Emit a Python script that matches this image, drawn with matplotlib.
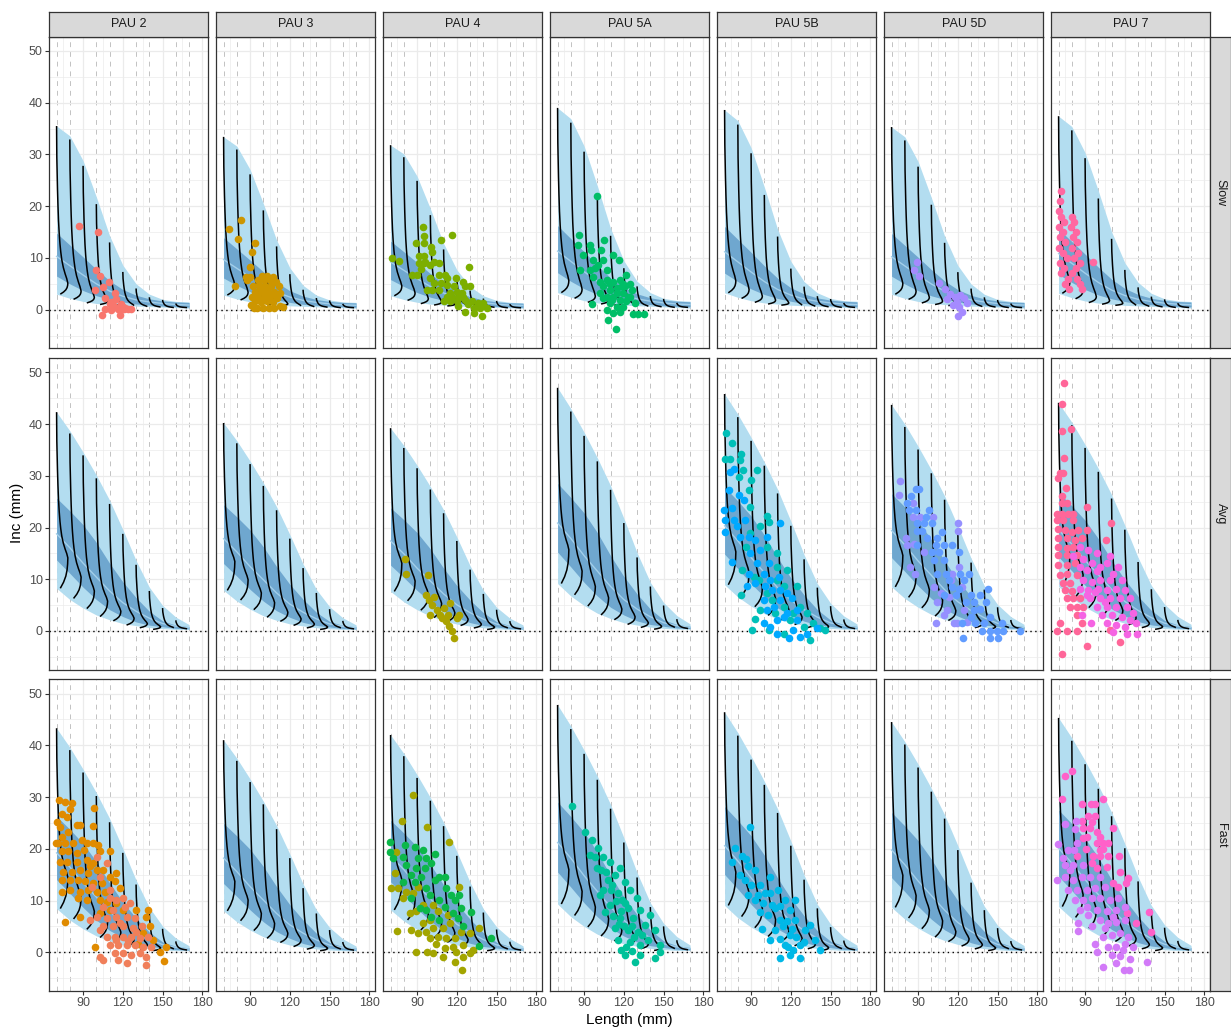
import numpy as np
import matplotlib.pyplot as plt

plt.rcParams['font.family'] = ['Liberation Sans', 'DejaVu Sans']

# --- facets ---
PAUS = ["PAU 2", "PAU 3", "PAU 4", "PAU 5A", "PAU 5B", "PAU 5D", "PAU 7"]
SPEEDS = ["Slow", "Avg", "Fast"]

# --- growth envelopes (per speed, reference panel), lengths 70..170 ---
LENGTHS = [70, 80, 90, 100, 110, 120, 130, 140, 150, 160, 170]
SLOW_REF = 35.5
SLOW_UPPER = [35.5, 33.6, 28.8, 21.8, 14.3, 8.6, 5.0, 3.0, 2.0, 1.6, 1.5]
SLOW_LOWER = [3.0, 2.2, 1.6, 1.2, 1.0, 0.8, 0.7, 0.6, 0.5, 0.4, 0.3]
SLOW_IN_HI = [14.8, 12.5, 10.2, 7.8, 5.6, 3.9, 2.8, 2.1, 1.7, 1.5, 1.4]
SLOW_IN_LO = [6.5, 5.0, 3.7, 2.7, 2.0, 1.5, 1.1, 0.9, 0.7, 0.6, 0.5]
SLOW_MED = [10.3, 8.5, 6.7, 5.0, 3.6, 2.6, 1.9, 1.5, 1.2, 1.0, 0.9]

FAST_REF = 41.0
FAST_UPPER = [41.0, 37.5, 33.5, 29.2, 24.5, 19.0, 13.2, 8.2, 4.8, 2.6, 1.2]
FAST_LOWER = [8.0, 5.9, 4.3, 3.0, 2.1, 1.4, 1.0, 0.65, 0.45, 0.3, 0.3]
FAST_IN_HI = [24.9, 22.5, 19.9, 16.6, 12.7, 9.2, 6.25, 3.7, 1.9, 1.1, 0.8]
FAST_IN_LO = [13.3, 10.8, 8.2, 5.9, 4.0, 2.7, 1.7, 1.1, 0.8, 0.5, 0.4]
FAST_MED = [18.2, 15.6, 12.7, 10.1, 7.5, 5.3, 3.7, 2.4, 1.4, 0.9, 0.6]

# --- start-length increment curves (top, mode, bottom) ---
START_LENGTHS = [70, 80, 90, 100, 110, 120, 130, 140, 150, 160]
SLOW_CURVE_TOP = [35.5, 32.9, 27.8, 20.4, 13.0, 7.3, 4.1, 2.4, 1.9, 1.2]
SLOW_CURVE_MODE = [5.1, 3.6, 2.4, 1.7, 1.2, 0.8, 0.6, 0.5, 0.4, 0.4]
SLOW_CURVE_BOT = [3.0, 2.0, 1.3, 1.0, 0.8, 0.8, 0.6, 0.5, 0.4, 0.4]
FAST_CURVE_TOP = [41.0, 37.0, 32.9, 28.6, 23.8, 18.2, 12.4, 7.5, 4.3, 2.0]
FAST_CURVE_MODE = [13.7, 10.1, 7.5, 5.6, 3.7, 2.4, 1.4, 0.8, 0.6, 0.4]
FAST_CURVE_BOT = [8.0, 6.1, 4.2, 2.7, 1.9, 1.1, 0.6, 0.3, 0.6, 0.4]

# curve outline: height fraction above the mode vs. sideways fraction
CURVE_UP_V = [1.0, 0.8, 0.6, 0.5, 0.4, 0.32, 0.25, 0.2, 0.15, 0.1, 0.06, 0.03, 0.0]
CURVE_UP_DX = [0.0, 0.02, 0.08, 0.12, 0.17, 0.23, 0.3, 0.37, 0.46, 0.6, 0.76, 0.9, 1.0]
CURVE_LO_W = [0.0, 0.2, 0.4, 0.6, 0.8, 1.0]
CURVE_LO_DX = [1.0, 0.98, 0.93, 0.82, 0.62, 0.33]
CURVE_WIDTH = 8.5

# envelope height at 70 mm, per panel
TOP70 = {
    "Slow": [35.5, 33.4, 31.8, 39.0, 38.6, 35.3, 37.4],
    "Avg": [42.3, 40.2, 39.2, 47.0, 45.8, 43.7, 44.1],
    "Fast": [43.3, 41.0, 42.0, 47.8, 46.4, 44.5, 45.3],
}

# --- observed increments (length mm, inc mm) ---
pau2_slow = [(86.6, 16.2), (101.4, 15.1), (99.6, 7.7), (102.4, 6.6), (109.2, 5.4), (104.7, 4.3),
             (99.1, 3.8), (114, 3.3), (106.7, 2.2), (111, 1.5), (110, 1.1), (113.5, 0.7),
             (118.5, 1.1), (120, 0.6), (106.4, 0.1), (111, -0.1), (116, 0.1), (121, 0.1),
             (124, 0.1), (126.5, 0.1), (104, -1.0), (118, -1.0), (112, 0.3), (115, 2.0),
             (119, 0.2), (122, 0.3)]
pau3_slow = [(74.1, 15.5), (82.9, 17.3), (80.9, 13.7), (93.9, 12.8), (91.6, 11.1), (89.6, 8.2),
             (78.8, 4.6), (87.1, 6.4), (90.1, 6.3), (87.6, 5.7), (99, 6.5), (102.7, 6.5),
             (107.2, 6.4), (95.7, 5.7), (100.2, 5.7), (105.2, 5.7), (109.7, 5.4), (92.2, 4.5),
             (96.4, 4.8), (101.4, 4.6), (105.7, 4.5), (111.5, 4.6), (93.9, 3.5), (98.9, 3.5),
             (104, 3.3), (108.2, 3.5), (112.7, 3.2), (91.4, 2.5), (95.7, 2.4), (100.2, 2.2),
             (105.2, 2.4), (110.2, 2.2), (93.9, 1.6), (98.2, 1.4), (102.7, 1.6), (107.2, 1.4),
             (112.7, 0.7), (90.6, 0.9), (95.2, 0.3), (99.7, 0.3), (104, 0.3), (108.2, 0.3),
             (114.5, 0.5), (101.4, 2.8), (97.2, 4.1), (102.7, 3.8), (106.5, 2.8), (92.7, 0.3)]
pau4_slow = [(70.8, 9.9), (76.0, 9.5), (94.4, 15.9), (95.4, 14.3), (94.9, 12.8), (88.9, 12.8),
             (100.4, 12.1), (101.4, 11.2), (107.9, 13.5), (116.2, 14.4), (91.1, 10.4), (91.1, 9.1),
             (94.9, 9.0), (92.9, 7.8), (86.1, 6.8), (89.8, 6.8), (96.1, 9.3), (102.4, 9.3),
             (106.9, 9.1), (99.9, 6.1), (106.2, 6.7), (111.2, 6.7), (112.5, 6.1), (119.5, 6.1),
             (129.3, 8.3), (97.4, 3.8), (101.2, 3.8), (107.9, 5.1), (112.5, 4.8), (117.5, 4.5),
             (125, 5.4), (125.8, 4.5), (115, 3.2), (120, 3.5), (123.8, 3.2), (130, 4.5),
             (110, 1.6), (115, 1.6), (120, 1.6), (126.3, 1.9), (131.3, 1.6), (136.3, 1.2),
             (140.1, 1.2), (142.6, 0.3), (132.6, 0.3), (126.3, -0.4), (132.6, -0.6), (138.8, -1.3),
             (125, 2.4), (122, 2.5), (116.2, 2.5), (112.5, 2.5), (106.9, 3.8), (102.4, 5.1),
             (120.5, 0.7), (128.8, 1.1), (137.6, 0.3), (94.9, 10.3), (99.9, 8.6)]
pau5a_slow = [(99.4, 22.0), (86.4, 14.4), (85.6, 12.5), (94.4, 12.5), (94.9, 11.5), (105.2, 13.5),
              (102.4, 11.5), (89.4, 10.6), (96.9, 9.6), (104.5, 9.6), (111.5, 10.6), (116, 9.6),
              (86.9, 7.7), (94.4, 7.7), (100.7, 8.6), (107, 7.7), (122, 6.7), (96.9, 6.4),
              (101.9, 5.4), (107, 5.7), (112, 5.4), (117, 5.7), (120.8, 4.5), (125.8, 3.8),
              (104.5, 4.5), (109.5, 3.8), (114.5, 4.1), (119.5, 3.2), (124.5, 2.5), (128.3, 1.2),
              (101.9, 3.2), (107, 2.5), (112, 2.5), (117, 1.9), (122, 1.6), (95.7, 1.1),
              (109.5, 1.2), (114.5, 0.6), (119.5, 0.6), (107, -0.1), (112, -0.7), (117, -0.4),
              (127.1, -0.8), (130.8, -0.8), (135.1, -0.8), (108.2, -1.9), (114, -3.7), (109.5, 5.0),
              (114.5, 3.2), (110.7, 1.9), (118.3, 4.5), (123.3, 2.5), (104.5, 2.2), (119.5, 5.0),
              (124.5, 5.0), (98.2, 8.0)]
pau5d_slow = [(89, 9.2), (87, 7.6), (91, 6.5), (106, 5.2), (110, 4.0), (114, 3.0), (118, 2.5),
              (122, 2.8), (125, 2.3), (119, 1.5), (121, 0.5), (123, -0.5), (120, -1.2), (116, 1.0),
              (112, 2.0), (127, 1.2)]
pau7_slow = [(72, 23), (71, 21), (70, 19), (72, 18), (74, 17), (70, 16), (73, 15), (71, 14),
             (75, 13), (70, 12), (73, 11), (76, 10), (71, 9), (74, 8), (72, 7), (77, 6), (75, 5),
             (78, 4), (80, 18), (82, 17), (79, 16), (83, 15), (81, 14), (84, 13), (80, 12),
             (85, 11), (82, 10), (86, 9), (83, 8), (80, 7), (84, 6), (86, 5), (88, 4), (96, 9.2)]

pau4_avg = [(81, 13.9), (82, 11.0), (98, 10.8), (97, 7), (99, 6), (101, 5), (103, 6.5), (105, 4),
            (107, 3), (109, 2.5), (112, 2), (114, 1), (116, 0), (118, -1.3), (110, 4.5), (113, 3),
            (120, 2.5), (122, 3), (115, 5.5), (100, 3)]
pau5b_avg_a = [(71.3, 38.2), (75.3, 36.3), (70.5, 33.2), (74.3, 33.2), (82.3, 34.2), (81.9, 33.0),
               (83.9, 31.1), (80.6, 29.8), (89.9, 29.2), (94.4, 31.2), (88.1, 27.2), (89.4, 24.0),
               (101.9, 22.2), (96.9, 20.2), (103.2, 21.1), (89.4, 18.9), (86.4, 16.3), (101.9, 16.3),
               (109.5, 15.0), (83.1, 11.8), (91.9, 10.5), (82.4, 7.0), (95.7, 9.8), (109.5, 12.4),
               (117, 11.8), (124.5, 8.6), (101.9, 7.3), (96.9, 4.0), (93.1, 2.4), (90.6, 0.2),
               (103.2, 0.2), (108.2, 3.4), (114.5, 4.7), (122, 3.4), (127, 4.7), (132.1, 3.4),
               (137.1, 1.5), (142.1, 0.5), (145.9, 0.2), (134.6, -1.7), (129.6, 0.8), (114.5, -0.5),
               (119.5, 2.1), (109.5, 9.8), (114.5, 8.6), (105.7, 6.0)]
pau5b_avg_b = [(74.3, 30.8), (76.8, 31.4), (73.1, 27.2), (69.3, 23.4), (75.6, 23.7), (80.6, 26.3),
               (84.4, 25.3), (70.5, 21.4), (76.8, 21.4), (85.6, 21.4), (70.5, 19.2), (79.3, 20.2),
               (81.9, 18.2), (75.6, 13.4), (88.1, 18.2), (93.1, 17.6), (89.4, 15.0), (96.9, 15.7),
               (101.9, 18.2), (112, 20.8), (94.4, 13.1), (103.2, 13.1), (88.1, 11.1), (93.1, 9.2),
               (99.4, 11.1), (104.5, 9.8), (110.7, 10.5), (86.9, 8.6), (100.7, 8.6), (105.7, 7.9),
               (112, 7.9), (117, 7.3), (99.4, 6.0), (112, 6.0), (120.8, 6.3), (101.9, 4.0),
               (107, 4.7), (117, 3.4), (124.5, 4.0), (109.5, 2.1), (114.5, 2.8), (124.5, 2.1),
               (109.5, -0.5), (118.3, -1.4), (127, -1.1), (122, 0.2), (132.1, -0.5), (139.6, 0.5),
               (104.5, 0.8), (99.4, 1.5)]
pau5d_avg_a = [(76.3, 29.0), (75.3, 26.3), (86.4, 24.8), (86.1, 22.1), (91.1, 22.1), (101.2, 22.1),
               (120, 20.8), (120, 19.4), (80.8, 17.9), (86.9, 16.9), (81.8, 16.6), (94.4, 15.3),
               (83.9, 12.4), (87.4, 11.1), (120.8, 12.4), (101.9, 8.5), (115.7, 11.1), (104.4, 5.7),
               (109.5, 3.1), (103.7, 1.6), (119.5, 1.6), (124.5, 4.0), (113.2, 6.6), (123.3, 8.5),
               (114.5, 9.9), (112, 4.1), (117, 1.5), (127, 1.8), (107, 7.3)]
pau5d_avg_b = [(88.1, 27.5), (90.6, 27.5), (84.4, 26.1), (81.9, 24.8), (83.1, 23.4), (88.1, 23.4),
               (98.2, 23.4), (96.2, 22.1), (89.4, 20.8), (94.4, 20.8), (100.7, 20.8), (89.4, 19.3),
               (93.1, 19.3), (104.4, 17.9), (108.2, 19.2), (96.9, 17.9), (103.2, 16.6), (109.5, 16.6),
               (115.7, 16.6), (89.4, 16.6), (100.7, 15.3), (105.7, 15.3), (120.8, 15.3), (109.5, 13.7),
               (101.9, 13.7), (104.4, 11.1), (110.7, 11.1), (122, 11.1), (128.3, 11.1), (113.2, 9.9),
               (124.5, 9.9), (115.7, 8.5), (120.8, 8.2), (109.5, 6.9), (118.3, 6.9), (129.6, 6.9),
               (137.1, 6.9), (142.6, 8.2), (125.8, 5.7), (132.1, 5.7), (140.9, 5.7), (132.1, 4.1),
               (137.1, 4.2), (144.6, 2.8), (129.6, 2.8), (123.3, 1.6), (133.3, 1.5), (139.6, 1.5),
               (153.4, 1.6), (144.6, 0.0), (149.6, 0.0), (154.2, 0.0), (166.7, 0.0), (144.6, -1.3),
               (150.4, -1.3), (123.8, -1.3), (138.3, 0.0)]
pau7_avg_a = [(74.1, 47.9), (72.3, 43.9), (72.3, 38.7), (79.1, 39.1), (74.1, 33.4), (71.0, 30.5),
              (69.8, 29.5), (73.6, 30.5), (75.6, 27.6), (72.3, 26.0), (72.3, 24.7), (76.1, 24.7),
              (68.5, 22.7), (72.3, 22.7), (77.3, 22.7), (81.1, 22.7), (91.1, 24.0), (109.5, 20.8),
              (68.5, 21.4), (73.6, 21.4), (81.1, 21.4), (69.8, 19.8), (74.8, 19.5), (79.8, 19.2),
              (84.9, 19.5), (91.6, 19.5), (69.8, 17.9), (76.1, 17.9), (82.4, 17.6), (87.4, 17.9),
              (105.7, 17.5), (69.8, 16.3), (76.1, 16.0), (81.1, 16.3), (69.8, 14.7), (76.1, 14.7),
              (83.6, 14.7), (69.8, 12.8), (76.1, 12.8), (82.4, 13.1), (71.0, 10.8), (76.1, 11.0),
              (83.6, 10.8), (73.6, 9.2), (78.6, 9.2), (74.8, 7.9), (79.8, 7.8), (76.1, 6.3),
              (81.1, 6.3), (86.1, 6.3), (83.6, 4.7), (88.6, 4.7), (83.6, 3.1), (87.4, 1.5),
              (71.0, 1.5), (69.0, 0.0), (76.1, 0.0), (83.6, 0.0), (91.1, -2.9), (72.8, -4.4),
              (116.3, -2.1), (108.7, 0.1), (78.6, 4.7)]
pau7_avg_b = [(86.1, 16.3), (92.4, 15.6), (98.7, 15.0), (81.1, 14.4), (88.6, 14.0), (94.9, 13.1),
              (101.2, 12.4), (86.1, 12.4), (91.1, 11.8), (98.7, 11.5), (106.2, 13.1), (108.7, 14.4),
              (88.6, 9.9), (94.9, 9.5), (101.2, 9.9), (108.7, 9.9), (117.5, 9.9), (86.1, 8.2),
              (92.4, 7.9), (99.9, 8.2), (106.2, 7.9), (113.7, 8.2), (120, 7.9), (93.6, 6.3),
              (101.2, 6.3), (108.7, 6.3), (116.3, 6.3), (123.8, 6.3), (98.7, 4.7), (106.2, 4.7),
              (113.7, 4.7), (121.3, 4.7), (126.3, 3.4), (102.4, 3.1), (110, 3.1), (117.5, 2.8),
              (123.8, 2.1), (128.8, 1.5), (106.2, 1.5), (113.7, 1.2), (120, 0.8), (111.2, -0.1),
              (121.3, -0.5), (129.3, -0.5), (94.4, 1.5), (87.4, 3.1), (115, 12.4), (111.2, 11.1),
              (91.1, 7.0), (97.4, 7.6), (105, 5.7)]

pau2_fast_a = [(72.1, 29.4), (76.3, 29.1), (70.0, 25.2), (73.8, 26.8), (77.6, 26.2), (81.3, 28.8),
               (80.1, 27.6), (72.6, 24.3), (85.1, 24.6), (87.6, 24.6), (73.8, 22.3), (78.8, 23.3),
               (71.3, 21.1), (69.5, 21.2), (76.3, 21.1), (82.6, 21.1), (88.9, 21.7), (92.6, 21.1),
               (97.7, 21.1), (101.4, 20.7), (98.2, 27.8), (97.2, 24.5), (73.8, 19.5), (78.8, 19.5),
               (85.1, 19.1), (90.6, 19.8), (102.7, 19.5), (72.6, 17.5), (77.6, 17.5), (85.1, 17.5),
               (92.6, 17.8), (97.7, 17.2), (75.1, 15.6), (81.3, 15.6), (87.6, 15.9), (93.9, 15.3),
               (100.2, 15.9), (105.2, 15.9), (73.8, 14.0), (80.1, 14.0), (86.4, 14.0), (91.4, 13.7),
               (97.7, 13.3), (104, 13.3), (110.2, 14.6), (115.2, 15.3), (114, 13.7), (73.8, 11.7),
               (80.1, 12.1), (87.6, 11.7), (93.9, 12.1), (100.2, 11.7), (106.5, 11.7), (86.4, 10.4),
               (92.6, 10.1), (102.7, 10.1), (76.3, 5.9), (87.6, 6.9), (102.7, 7.5), (110.2, 8.2),
               (120.3, 8.2), (130.3, 8.2), (139.1, 8.2), (137.8, 6.9), (135.3, 3.7), (140.4, 5.0),
               (98.9, 1.1), (131.6, 1.7), (142.9, 2.4), (152.9, 1.0), (147.9, 0.1), (151.2, -1.6),
               (110.2, 19.5), (95.2, 16.6), (107.7, 9.8), (115.2, 9.5), (117.8, 12.4)]
pau2_fast_b = [(100.2, 18.5), (107.7, 17.2), (102.7, 14.6), (96.4, 12.7), (110.2, 12.1), (115.2, 10.1),
               (120.3, 10.4), (105.2, 8.8), (112.7, 8.2), (121.5, 8.8), (125.3, 9.5), (100.2, 6.9),
               (107.7, 6.6), (115.2, 6.9), (122.8, 6.9), (129.1, 6.6), (95.2, 6.2), (105.2, 5.0),
               (112.7, 5.0), (120.3, 5.0), (127.8, 4.6), (134.1, 5.0), (107.7, 3.0), (114, 3.0),
               (120.3, 3.0), (126.5, 3.0), (132.8, 2.7), (139.1, 3.0), (110.2, 1.4), (116.5, 1.4),
               (122.8, 1.4), (129.1, 1.4), (135.3, 1.1), (141.6, 1.1), (114, -0.2), (120.3, -0.2),
               (126.5, -0.5), (132.8, -0.2), (137.8, -0.9), (102.7, -0.9), (105.2, -1.5), (116.5, -1.5),
               (122.8, -2.0), (137.8, -2.5), (110.2, 10.4), (102.7, 4.3), (130.3, 4.0), (117.8, 5.6),
               (124, 2.1), (115.2, 2.4)]
pau4_fast_a = [(86.9, 30.4), (78.8, 25.4), (97.7, 24.3), (114, 21.3), (74.3, 19.3), (73.1, 15.3),
               (70.5, 12.4), (75.6, 12.4), (81.9, 11.7), (79.3, 10.4), (86.9, 11.5), (90.6, 12.7),
               (84.4, 7.5), (89.4, 7.9), (94.4, 9.1), (101.9, 9.1), (105.7, 7.9), (74.8, 4.2),
               (85.6, 4.3), (90.6, 3.7), (96.9, 4.0), (101.9, 4.6), (109.5, 4.6), (114.5, 5.6),
               (122, 12.7), (123.3, 4.0), (129.6, 3.7), (137.1, 4.6), (89.4, 0.1), (97.4, 0.1),
               (104.4, 1.7), (110.7, 0.8), (117, 1.1), (124.5, 1.4), (132.1, 0.4), (109.5, -0.9),
               (118.3, -1.8), (124.5, -0.9), (124, -3.4), (99.4, 2.7), (105.7, 3.0), (112, 2.7),
               (118.3, 2.7), (94.4, 5.6), (99.4, 6.2), (113.2, 7.2), (101.9, -0.2), (129.6, -0.2),
               (119.5, 0.1)]
pau4_fast_b = [(69.8, 21.4), (69.8, 19.4), (71.8, 18.2), (80.6, 20.7), (88.1, 20.4), (94.4, 19.8),
               (103.2, 19.0), (79.3, 18.5), (90.6, 18.2), (96.9, 18.2), (100.7, 17.3), (81.9, 16.9),
               (89.4, 16.2), (95.7, 16.2), (85.6, 14.9), (93.1, 14.6), (106.9, 14.6), (110.7, 14.6),
               (103.2, 14.0), (112, 12.4), (79.3, 13.6), (88.1, 13.6), (96.9, 12.4), (115.7, 11.1),
               (122, 11.1), (118.3, 10.1), (106.9, 10.1), (85.6, 10.4), (110.7, 8.8), (100.7, 6.9),
               (117, 7.5), (120.8, 6.6), (130.8, 7.8), (145.9, 2.7), (137.1, 1.2), (91.9, 8.5),
               (99.4, 11.1), (123.3, 8.5), (106.9, 6.2), (124.5, 5.0), (96.9, 8.2)]
pau5a_fast = [(80.8, 28.3), (90.6, 23.3), (95.9, 21.7), (100.4, 20.2), (94.4, 18.8), (104.2, 18.4),
              (109.5, 17.5), (99.7, 16.3), (106.5, 15.5), (113.2, 15.0), (117.0, 16.3), (120.8, 13.6),
              (111.0, 13.0), (104.2, 12.1), (115.5, 11.5), (124.5, 12.1), (129.8, 10.5), (118.5, 10.1),
              (109.5, 9.1), (123.0, 8.6), (132.1, 8.2), (139.6, 7.2), (126.8, 6.6), (117.0, 6.6),
              (135.8, 5.3), (143.4, 4.3), (130.6, 3.9), (123.0, 4.3), (113.2, 4.7), (138.1, 2.4),
              (147.1, 1.4), (132.1, 1.4), (124.5, 2.0), (120.8, -0.5), (132.1, -0.5), (143.4, -1.1),
              (128.3, -1.9), (147.1, 0.1), (102.0, 11.1), (105.7, 7.8), (115.5, 2.4),
              (110, 12), (114, 10), (118, 8), (121, 9.5), (112, 7), (116, 5.5), (120, 5),
              (126, 5), (128, 3), (122, 1), (118, 0.5), (126, 0.2), (134, 3.3), (108, 14),
              (103, 16), (98, 18.5)]
pau5b_fast = [(89.1, 24.2), (77.8, 20.2), (75.6, 17.5), (83.1, 18.6), (87.6, 16.7), (92.9, 15.9),
              (85.4, 14.0), (96.7, 13.0), (104.2, 14.6), (100.4, 11.5), (110.2, 12.1), (92.9, 10.1),
              (105.7, 9.2), (115.5, 10.1), (119.3, 8.2), (102.7, 7.2), (111.7, 6.3), (123.0, 6.3),
              (108.0, 4.3), (119.3, 3.4), (130.6, 4.3), (115.5, 1.4), (126.8, 1.4), (138.1, 2.4),
              (119.3, -0.5), (111.7, -1.1), (126.8, -1.1), (141.9, 0.4), (96.7, 7.8), (87.6, 11.1),
              (81.6, 15.0), (134.3, 5.3), (104.2, 2.4), (123.0, 10.1),
              (90, 13), (95, 11), (99, 9.5), (104, 11.5), (108, 8.5), (112, 9), (114, 5),
              (117, 6), (121, 4.5), (124, 3), (112, 2.5), (118, 1), (122, 0.5), (130, 2),
              (98, 4.5), (86, 18)]
pau7_fast_a = [(75.1, 34.1), (80.3, 35.1), (72.3, 29.6), (87.4, 28.7), (94.2, 28.7), (97.4, 28.7),
               (103.7, 29.6), (92.4, 26.4), (97.4, 26.4), (87.9, 25.3), (94.9, 25.1), (88.6, 24.1),
               (93.6, 24.1), (98.7, 23.3), (111.2, 24.1), (91.1, 22.2), (88.6, 22.0), (101.2, 22.2),
               (98.7, 21.1), (103.7, 21.1), (107.5, 21.1), (90.6, 19.9), (103.7, 19.9), (83.6, 18.6),
               (96.2, 18.6), (101.2, 18.6), (107.5, 18.6), (115.5, 18.7), (98.7, 16.2), (106.2, 16.4),
               (116.2, 15.6), (122.5, 14.3), (120.8, 13.3), (115, 12.7), (111.2, 13.3), (138.3, 7.7),
               (140.1, 3.9), (121.3, 7.5), (128.8, 5.7), (94.9, 17.2), (101.2, 19.8)]
pau7_fast_b = [(83.1, 25.3), (74.8, 24.8), (82.4, 23.8), (83.6, 21.1), (69.8, 20.9), (77.3, 19.8),
               (81.6, 19.8), (73.6, 18.2), (74.8, 16.9), (81.1, 16.9), (88.6, 16.9), (69.0, 14.0),
               (74.8, 14.6), (81.1, 14.0), (87.4, 14.6), (93.6, 14.6), (101.2, 14.6), (77.3, 12.0),
               (83.6, 12.0), (91.1, 12.0), (97.4, 12.4), (105, 12.7), (82.4, 10.1), (88.6, 10.1),
               (94.9, 10.4), (101.2, 10.4), (108.7, 10.1), (115, 10.4), (86.1, 8.2), (92.4, 7.2),
               (98.7, 8.2), (106.2, 7.9), (113.7, 8.2), (120, 8.8), (84.9, 5.6), (94.9, 5.0),
               (101.2, 6.2), (107.5, 5.6), (113.7, 5.9), (120, 6.2), (84.9, 4.2), (97.4, 1.7),
               (103.7, 3.0), (110, 3.4), (116.2, 3.7), (122.5, 3.0), (98.7, 0.1), (107.5, 1.1),
               (113.7, 1.1), (120, 1.7), (126.3, 1.1), (110, -0.5), (116.2, -0.8), (123.8, -1.2),
               (113.7, -2.1), (119.3, -3.4), (123.3, -3.4), (103.7, -2.9), (137.1, -1.8), (111.2, 6.9),
               (105, 4.6), (118.8, 0.4), (91.1, 8.8), (78.6, 15.9)]

# panel -> point sets and colours (hue palette)
OBS = {
    ("PAU 2", "Slow"): [(pau2_slow, "#F8766D")],
    ("PAU 3", "Slow"): [(pau3_slow, "#CD9600")],
    ("PAU 4", "Slow"): [(pau4_slow, "#7CAE00")],
    ("PAU 5A", "Slow"): [(pau5a_slow, "#00BE67")],
    ("PAU 5D", "Slow"): [(pau5d_slow, "#A58AFF")],
    ("PAU 7", "Slow"): [(pau7_slow, "#FF68A1")],
    ("PAU 4", "Avg"): [(pau4_avg, "#ABA300")],
    ("PAU 5B", "Avg"): [(pau5b_avg_a, "#00BFB8"), (pau5b_avg_b, "#00A9FF")],
    ("PAU 5D", "Avg"): [(pau5d_avg_a, "#9590FF"), (pau5d_avg_b, "#619CFF")],
    ("PAU 7", "Avg"): [(pau7_avg_a, "#FF6699"), (pau7_avg_b, "#F564E3")],
    ("PAU 2", "Fast"): [(pau2_fast_a, "#E08B00"), (pau2_fast_b, "#F07F5A")],
    ("PAU 4", "Fast"): [(pau4_fast_a, "#A3A500"), (pau4_fast_b, "#0CB74A")],
    ("PAU 5A", "Fast"): [(pau5a_fast, "#00C19A")],
    ("PAU 5B", "Fast"): [(pau5b_fast, "#00B8E7")],
    ("PAU 7", "Fast"): [(pau7_fast_a, "#FF61C9"), (pau7_fast_b, "#D27AF8")],
}

ROWS = {
    "Slow": (SLOW_REF, SLOW_UPPER, SLOW_LOWER, SLOW_IN_HI, SLOW_IN_LO, SLOW_MED,
             SLOW_CURVE_TOP, SLOW_CURVE_MODE, SLOW_CURVE_BOT),
    "Avg": (FAST_REF, FAST_UPPER, FAST_LOWER, FAST_IN_HI, FAST_IN_LO, FAST_MED,
            FAST_CURVE_TOP, FAST_CURVE_MODE, FAST_CURVE_BOT),
    "Fast": (FAST_REF, FAST_UPPER, FAST_LOWER, FAST_IN_HI, FAST_IN_LO, FAST_MED,
             FAST_CURVE_TOP, FAST_CURVE_MODE, FAST_CURVE_BOT),
}


def curve_path(L0, top, mode, bottom):
    inc = mode + np.array(CURVE_UP_V) * (top - mode)
    ln = L0 + CURVE_WIDTH * np.array(CURVE_UP_DX)
    if bottom < mode - 0.05:
        inc = np.concatenate([inc, mode - np.array(CURVE_LO_W[1:]) * (mode - bottom)])
        ln = np.concatenate([ln, L0 + CURVE_WIDTH * np.array(CURVE_LO_DX[1:])])
    return ln, inc


W, H = 1231, 1029
fig = plt.figure(figsize=(W / 100, H / 100), dpi=100)

PX0, PSTEP, PW = 49.3, 167.0, 159.0
PY0, RSTEP, PH = 36.7, 321.3, 311.6
EDGE = "#333333"

for r, speed in enumerate(SPEEDS):
    ref, up, lo, ihi, ilo, med, ctop, cmode, cbot = ROWS[speed]
    for c, pau in enumerate(PAUS):
        x0 = PX0 + PSTEP * c
        y0 = PY0 + RSTEP * r
        ax = fig.add_axes([x0 / W, 1 - (y0 + PH) / H, PW / W, PH / H])
        ax.set_xlim(64.5, 184.5)
        ax.set_ylim(-7.46, 52.76)

        # grid
        ax.set_xticks([90, 120, 150, 180])
        ax.set_xticks([75, 105, 135, 165], minor=True)
        ax.set_yticks([0, 10, 20, 30, 40, 50])
        ax.set_yticks([-5, 5, 15, 25, 35, 45], minor=True)
        ax.grid(which="major", color="#EBEBEB", lw=0.9, zorder=0)
        ax.grid(which="minor", color="#EBEBEB", lw=0.5, zorder=0)
        ax.set_axisbelow(True)
        for L in range(70, 181, 10):
            ax.axvline(L, color="#C2C2C2", lw=0.7, ls=(0, (5, 5)), zorder=0.5)

        s = TOP70[speed][c] / ref
        sc = lambda v: s * np.array(v)
        ax.fill_between(LENGTHS, sc(lo), sc(up), color="#B3DDF0", lw=0, zorder=1)
        ax.fill_between(LENGTHS, sc(ilo), sc(ihi), color="#6FA7CF", lw=0, zorder=1.1)
        ax.plot(LENGTHS, sc(med), color="#A3CFEA", lw=1.0, zorder=1.2)
        ax.axhline(0, color="black", lw=1.0, ls=(0, (1, 2.5)), zorder=1.5)

        for L0, t, m, b in zip(START_LENGTHS, sc(ctop), sc(cmode), sc(cbot)):
            cx, cy = curve_path(L0, t, m, b)
            ax.plot(cx, cy, color="black", lw=1.1, zorder=2, solid_capstyle="butt")

        for pts, col in OBS.get((pau, speed), []):
            arr = np.array(pts)
            ax.scatter(arr[:, 0], arr[:, 1], s=30, color=col, lw=0, zorder=3)

        for sp in ax.spines.values():
            sp.set_color(EDGE)
            sp.set_linewidth(0.9)
        ax.tick_params(which="minor", length=0)
        ax.tick_params(which="major", length=2.7, width=0.8, color=EDGE,
                       labelsize=9, labelcolor="#4D4D4D", pad=2)
        if c != 0:
            ax.tick_params(axis="y", which="major", length=0, labelleft=False)
        if r != 2:
            ax.tick_params(axis="x", which="major", length=0, labelbottom=False)

        # strips
        if r == 0:
            sa = fig.add_axes([x0 / W, 1 - y0 / H, PW / W, 25 / H])
            sa.set_facecolor("#D9D9D9")
            sa.set_xticks([])
            sa.set_yticks([])
            for sp in sa.spines.values():
                sp.set_color(EDGE)
                sp.set_linewidth(0.9)
            sa.text(0.5, 0.5, pau, ha="center", va="center", fontsize=9, color="#1A1A1A",
                    transform=sa.transAxes)
        if c == len(PAUS) - 1:
            sa = fig.add_axes([(x0 + PW) / W, 1 - (y0 + PH) / H, 20.5 / W, PH / H])
            sa.set_facecolor("#D9D9D9")
            sa.set_xticks([])
            sa.set_yticks([])
            for sp in sa.spines.values():
                sp.set_color(EDGE)
                sp.set_linewidth(0.9)
            sa.text(0.5, 0.5, speed, ha="center", va="center", fontsize=9, color="#1A1A1A",
                    rotation=-90, transform=sa.transAxes)

fig.text(629.8 / W, 1 - 1020 / H, "Length (mm)", ha="center", va="center", fontsize=11)
fig.text(17 / W, 1 - 513 / H, "Inc (mm)", ha="center", va="center", fontsize=11, rotation=90)

fig.savefig("out.png", dpi=100)
